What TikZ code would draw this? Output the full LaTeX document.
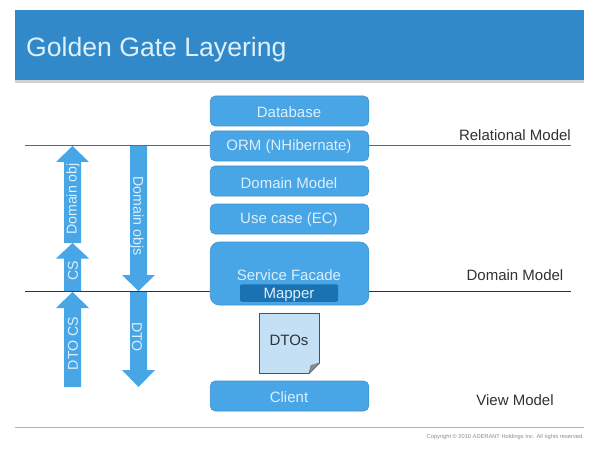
\documentclass[tikz,border=0pt]{standalone}
\usepackage{fontspec}
\setmainfont{Liberation Sans}
\usetikzlibrary{shapes.arrows}
\definecolor{band}{HTML}{3189C9}
\definecolor{boxc}{HTML}{48A5E6}
\definecolor{boxe}{HTML}{3F93CE}
\definecolor{mapc}{HTML}{1B72B0}
\definecolor{notec}{HTML}{C3E0F5}
\definecolor{txtw}{HTML}{DDF0FB}
\definecolor{dark}{HTML}{2E3338}
\tikzset{
  x=1pt,y=-1pt,
  layer/.style={draw=boxe,line width=.6pt,fill=boxc,rounded corners=5pt,text=txtw,font=\fontsize{15}{17}\selectfont,minimum width=158.5pt,inner sep=0pt,anchor=center},
  rule/.style={line width=1.2pt,color=dark},
  arrowbody/.style={fill=boxc},
  arrowtext/.style={text=txtw,font=\fontsize{14.2}{16}\selectfont,rotate=90,inner sep=0pt},
  arrowtextd/.style={text=txtw,font=\fontsize{14.2}{16}\selectfont,rotate=-90,inner sep=0pt},
  modellabel/.style={text=dark,font=\fontsize{15}{17}\selectfont,inner sep=0pt},
  layertext/.style={text=txtw,font=\fontsize{15}{17}\selectfont,inner sep=0pt},
}
\begin{document}
\begin{tikzpicture}
\useasboundingbox (0,0) rectangle (599,449);
\fill[white] (0,0) rectangle (599,449);
% title band
\fill[black!18] (15,80) rectangle (584,83.5);
\node[draw=none,fill=band,minimum width=569pt,minimum height=70pt,inner sep=0pt] (band) at (299.5,45) {};
\node[text=txtw,font=\fontsize{26.6}{30}\selectfont,inner sep=0pt,anchor=west] (title) at (26,49.5) {Golden Gate Layering};
% layer boxes
\node[layer,minimum height=30pt] (db) at (289.5,111) {};
\node[layer,minimum height=30pt] (orm) at (289.5,146) {};
\node[layer,minimum height=30pt] (dm) at (289.5,181) {};
\node[layer,minimum height=30pt] (uc) at (289.5,219) {};
\node[layer,minimum height=63pt,rounded corners=9pt] (sf) at (289.5,273.5) {};
\node[layer,minimum height=30pt] (cl) at (289.5,396) {};
\node[layertext] (dbt) at (289,112.5) {Database};
\node[layertext] (ormt) at (289,147) {ORM (NHibernate)};
\node[layertext] (dmt) at (289,183) {Domain Model};
\node[layertext] (uct) at (289,220) {Use case (EC)};
\node[layertext] (sft) at (289,275.5) {Service Facade};
\node[fill=mapc,rounded corners=2pt,minimum width=98pt,minimum height=17.5pt,inner sep=0pt] (map) at (289,293) {};
\node[layertext] (mapt) at (289,295) {Mapper};
\node[layertext] (clt) at (289,397.5) {Client};
% model rules
\coordinate (a) at (25,145.5);
\coordinate (b) at (571,145.5);
\coordinate (c) at (25,291.5);
\coordinate (d) at (571,291.5);
\draw[rule,color=dark!75] (a) -- (orm.west |- a);
\draw[rule,color=dark!75] (orm.east |- b) -- (b);
\draw[rule] (c) -- (sf.west |- c);
\draw[rule] (sf.east |- d) -- (d);
% up arrows
\fill[arrowbody] (72.5,146)--(89,162)--(81,162)--(81,243)--(64,243)--(64,162)--(56,162)--cycle;
\fill[arrowbody] (72.5,243)--(89,258.5)--(81,258.5)--(81,291)--(64,291)--(64,258.5)--(56,258.5)--cycle;
\fill[arrowbody] (72.5,292)--(89,308)--(81,308)--(81,387)--(64,387)--(64,308)--(56,308)--cycle;
\node[arrowtext] (t1) at (73,199) {Domain obj};
\node[arrowtext] (t2) at (73,271) {CS};
\node[arrowtext] (t3) at (73,343.5) {DTO CS};
% down arrows
\fill[arrowbody] (130,146)--(147,146)--(147,275)--(155,275)--(138.5,291)--(122,275)--(130,275)--cycle;
\fill[arrowbody] (130,292)--(147,292)--(147,370)--(155,370)--(138.5,387)--(122,370)--(130,370)--cycle;
\node[arrowtextd] (t4) at (137,216) {Domain objs};
\node[arrowtextd] (t5) at (137,337) {DTO};
% note
\path[draw=dark!85,line width=.8pt,fill=notec] (259.5,313.5)--(319.5,313.5)--(319.5,363)--(309,373.5)--(259.5,373.5)--cycle;
\path[draw=dark!70,line width=.5pt,fill=black!45] (309,373.5)--(311,365.5)--(319.5,363)--cycle;
\node[text=dark,font=\fontsize{15}{17}\selectfont,inner sep=0pt] (dtos) at (289,340.5) {DTOs};
% labels
\node[modellabel,anchor=east] (rm) at (571,135.5) {Relational Model};
\node[modellabel] (dml) at (515,275.5) {Domain Model};
\node[modellabel] (vm) at (515,400.5) {View Model};
% footer
\fill[black!30] (15,426.5) rectangle (584,428);
\node[text=black!45,font=\fontsize{5.7}{6}\selectfont,inner sep=0pt,anchor=east] (copy) at (584,437) {Copyright © 2010 ADERANT Holdings Inc. All rights reserved.};
\end{tikzpicture}
\end{document}
